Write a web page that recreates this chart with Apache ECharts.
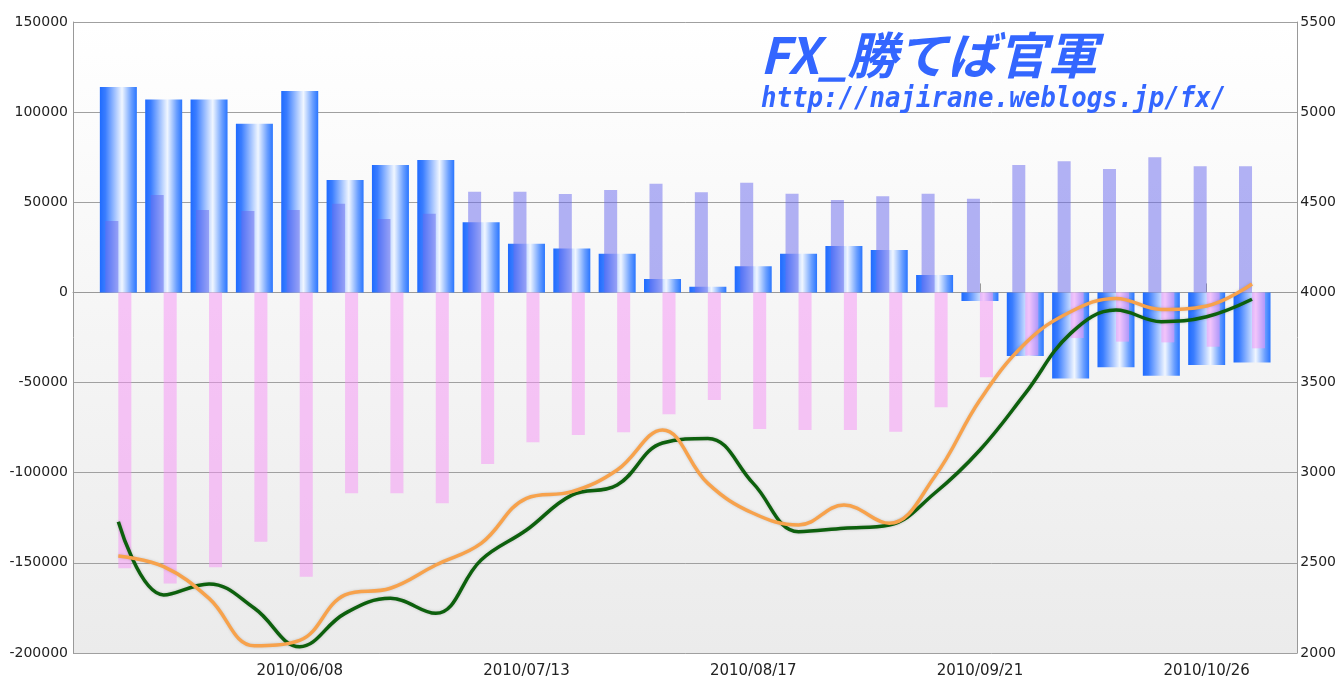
<!DOCTYPE html>
<html><head><meta charset="utf-8">
<script src="https://cdn.jsdelivr.net/npm/echarts@6/dist/echarts.min.js"></script>
<style>html,body{margin:0;padding:0;background:#fff}#c{width:1339px;height:679px}</style>
</head><body><div id="c"></div>
<script>
// ---- data ----
const dates = ['2010/05/11','2010/05/18','2010/05/25','2010/06/01','2010/06/08','2010/06/15','2010/06/22','2010/06/29','2010/07/06','2010/07/13','2010/07/20','2010/07/27','2010/08/03','2010/08/10','2010/08/17','2010/08/24','2010/08/31','2010/09/07','2010/09/14','2010/09/21','2010/09/28','2010/10/05','2010/10/12','2010/10/19','2010/10/26','2010/11/02'];
const netPositions = [114000,107000,107000,93600,111700,62400,70700,73500,38900,27000,24300,21500,7400,3200,14500,21500,25700,23500,9700,-4800,-35300,-47700,-41500,-46200,-40300,-38800];
const longPositions = [39600,54000,45700,45200,45700,49200,40700,43700,55900,55900,54600,56800,60300,55500,60900,54800,51300,53300,54800,52000,70700,72700,68500,75000,70000,70000];
const shortPositions = [-153000,-161400,-152500,-138300,-157700,-111400,-111400,-117000,-95200,-83100,-79100,-77600,-67600,-59700,-75800,-76300,-76300,-77300,-63700,-47100,-35000,-25300,-27300,-27700,-30100,-31000];
const greenLine = [2728,2322,2383,2248,2035,2220,2303,2220,2516,2682,2876,2932,3165,3190,2941,2673,2692,2710,2886,3126,3440,3773,3902,3838,3865,3962];
const orangeLine = [2538,2479,2303,2040,2070,2322,2359,2488,2608,2858,2895,3015,3237,2941,2775,2710,2821,2719,2978,3403,3718,3893,3967,3906,3925,4047];
const leftAxis = {min:-200000, max:150000, interval:50000};
const rightAxis = {min:2000, max:5500, interval:500};
const titleText = 'FX_勝てば官軍';
const urlText = 'http://najirane.weblogs.jp/fx/';

// ---- chart ----
const cats = [''].concat(dates, ['']);
const pad = a => ['-'].concat(a, ['-']);
const showIdx = i => i > 0 && i % 5 === 0;
const chart = echarts.init(document.getElementById('c'));
const font = '"DejaVu Sans", sans-serif';
const plain = v => String(v);
chart.setOption({
  animation: false,
  backgroundColor: '#ffffff',
  grid: {left: 73, right: 41, top: 22, bottom: 26, show: true, borderWidth: 0,
    backgroundColor: new echarts.graphic.LinearGradient(0,0,0,1,[{offset:0,color:'#ffffff'},{offset:1,color:'#ebebeb'}])},
  xAxis: [{
    type: 'category', data: cats, boundaryGap: false,
    axisLine: {lineStyle: {color: '#999', width: 1}},
    axisTick: {show: true, inside: true, length: 9, interval: showIdx, lineStyle: {color: '#999'}},
    axisLabel: {interval: showIdx, color: '#222', fontSize: 15, fontFamily: font, margin: 11},
    splitLine: {show: false}
  },{
    type: 'category', data: cats, boundaryGap: false, show: false
  }],
  yAxis: [{
    type: 'value', min: leftAxis.min, max: leftAxis.max, interval: leftAxis.interval,
    axisLine: {show: true, lineStyle: {color: '#999'}},
    axisTick: {show: false},
    axisLabel: {color: '#222', fontSize: 14, fontFamily: font, margin: 5, formatter: plain},
    splitLine: {lineStyle: {color: '#a0a0a0', width: 1}}
  },{
    type: 'value', min: rightAxis.min, max: rightAxis.max, interval: rightAxis.interval, position: 'right',
    axisLine: {show: true, lineStyle: {color: '#999'}},
    axisTick: {show: false},
    axisLabel: {color: '#222', fontSize: 14, fontFamily: font, margin: 3, formatter: plain},
    splitLine: {show: false}
  }],
  series: [{
    name: 'net', type: 'bar', xAxisIndex: 1, yAxisIndex: 0, barWidth: 37, z: 1,
    data: pad(netPositions),
    itemStyle: {color: new echarts.graphic.LinearGradient(0,0,1,0,[
      {offset:0,color:'#1f6bff'},{offset:0.15,color:'#3a7dff'},{offset:0.6,color:'#f0f6ff'},{offset:0.85,color:'#6a9fff'},{offset:1,color:'#2a76ff'}])}
  },{
    name: 'long', type: 'bar', xAxisIndex: 0, yAxisIndex: 0, barWidth: 13, barGap: '0%', z: 2,
    data: pad(longPositions),
    itemStyle: {color: '#6868ee', opacity: 0.5}
  },{
    name: 'short', type: 'bar', xAxisIndex: 0, yAxisIndex: 0, barWidth: 13, barGap: '0%', z: 2,
    data: pad(shortPositions),
    itemStyle: {color: '#f592f5', opacity: 0.5}
  },{
    name: 'green', type: 'line', xAxisIndex: 0, yAxisIndex: 1, smooth: 0.4, showSymbol: false, z: 5,
    data: pad(greenLine),
    lineStyle: {color: '#0d600d', width: 3.5, shadowColor: 'rgba(0,0,0,0.2)', shadowBlur: 3}
  },{
    name: 'orange', type: 'line', xAxisIndex: 0, yAxisIndex: 1, smooth: 0.4, showSymbol: false, z: 6,
    data: pad(orangeLine),
    lineStyle: {color: '#f7a24c', width: 3.5, shadowColor: 'rgba(0,0,0,0.15)', shadowBlur: 3}
  }],
  graphic: [{
    type: 'text', left: 760, top: 30, z: 100,
    style: {text: titleText, fill: '#3366ff', font: 'italic bold 50px "Noto Sans CJK JP", sans-serif'}
  },{
    type: 'text', left: 761, top: 86, z: 100, scaleX: 0.92,
    style: {text: urlText, fill: '#3366ff', font: 'italic bold 28px "DejaVu Sans Mono", monospace'}
  }]
});
</script></body></html>
